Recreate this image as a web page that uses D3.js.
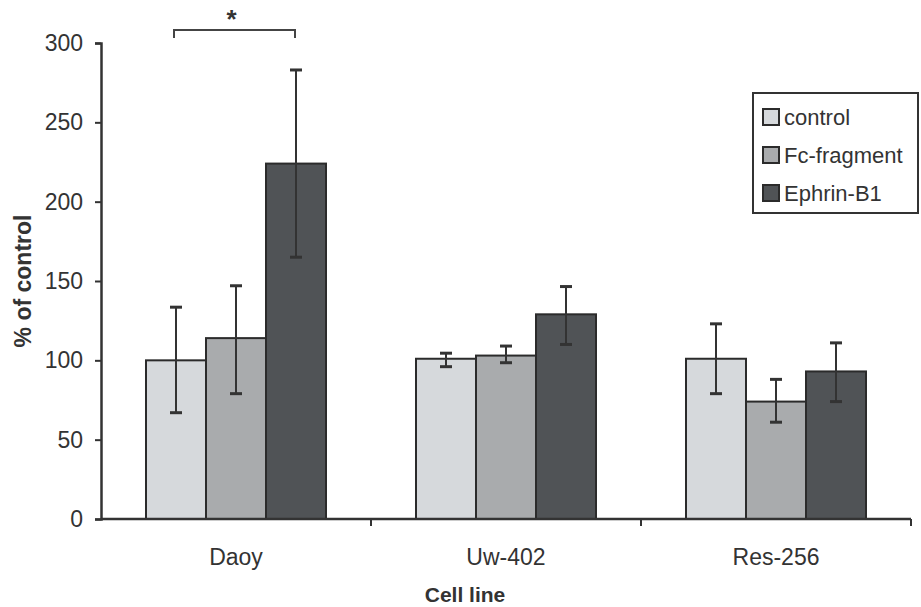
<!DOCTYPE html>
<html>
<head>
<meta charset="utf-8">
<script src="https://cdn.jsdelivr.net/npm/d3@7"></script>
<style>
  body { margin: 0; background: #fff; }
  svg text { font-family: "Liberation Sans", Arial, sans-serif; fill: #333; }
</style>
</head>
<body>
<div id="chart"></div>
<script>
// Data
const cellLines = ["Daoy", "Uw-402", "Res-256"];
const treatments = ["control", "Fc-fragment", "Ephrin-B1"];
const meanValues = [
  [100, 114, 224],   // Daoy
  [101, 103, 129],   // Uw-402
  [101, 74, 93]      // Res-256
];
const errLow = [
  [67, 79, 165],
  [96, 98.5, 110],
  [79, 61, 74]
];
const errHigh = [
  [133.5, 147, 283],
  [104.5, 109, 146.5],
  [123, 88, 111]
];
const yTicks = [0, 50, 100, 150, 200, 250, 300];
const colors = ["#d6d9dc", "#a9abad", "#505356"];

const margin = { top: 43, right: 10, bottom: 88, left: 101 };

const svg = d3.select("#chart")
  .append("svg")
  .attr("width", 921)
  .attr("height", 607);

const g = svg.append("g")
  .attr("transform", `translate(${margin.left},${margin.top})`);

// Scales
const xScale = d3.scaleBand()
  .domain(cellLines)
  .range([0, 810]);

const innerScale = d3.scaleBand()
  .domain(treatments)
  .range([45, xScale.bandwidth() - 45]);

const yScale = d3.scaleLinear()
  .domain([0, 300])
  .range([476, 0]);

// Flatten the table for the bars
const rows = [];
cellLines.forEach((c, i) => {
  treatments.forEach((t, j) => {
    rows.push({ cell: c, treat: t, j: j, v: meanValues[i][j], lo: errLow[i][j], hi: errHigh[i][j] });
  });
});

g.selectAll(".bar")
  .data(rows)
  .enter()
  .append("rect")
  .attr("class", "bar")
  .attr("x", d => xScale(d.cell) + innerScale(d.treat))
  .attr("y", d => yScale(d.v))
  .attr("width", innerScale.bandwidth())
  .attr("height", d => yScale(0) - yScale(d.v))
  .attr("fill", d => colors[d.j])
  .attr("stroke", "#2b2b2b")
  .attr("stroke-width", 2);

// Error bars
const cx = d => xScale(d.cell) + innerScale(d.treat) + innerScale.bandwidth() / 2;
const errG = g.append("g").attr("stroke", "#333").attr("stroke-width", 2);
errG.selectAll(".err")
  .data(rows)
  .enter()
  .append("line")
  .attr("x1", cx).attr("x2", cx)
  .attr("y1", d => yScale(d.lo))
  .attr("y2", d => yScale(d.hi));
errG.selectAll(".capHi")
  .data(rows)
  .enter()
  .append("line")
  .attr("x1", d => cx(d) - 6).attr("x2", d => cx(d) + 6)
  .attr("y1", d => yScale(d.hi)).attr("y2", d => yScale(d.hi))
  .attr("stroke-width", 3);
errG.selectAll(".capLo")
  .data(rows)
  .enter()
  .append("line")
  .attr("x1", d => cx(d) - 6).attr("x2", d => cx(d) + 6)
  .attr("y1", d => yScale(d.lo)).attr("y2", d => yScale(d.lo))
  .attr("stroke-width", 3);

// Y axis
const yAxis = g.append("g")
  .call(d3.axisLeft(yScale).tickValues(yTicks).tickSize(6).tickPadding(12));
yAxis.select(".domain").attr("stroke", "#333").attr("stroke-width", 2.5);
yAxis.selectAll(".tick line").attr("stroke", "#333").attr("stroke-width", 2);
yAxis.selectAll(".tick text")
  .style("font-size", "23px")
  .attr("fill", "#333");

// X axis (ticks at category boundaries)
const xAxisG = g.append("g").attr("transform", `translate(0,${yScale(0)})`);
xAxisG.append("line")
  .attr("x1", 0).attr("x2", 810)
  .attr("stroke", "#333").attr("stroke-width", 2.5);
const bounds = cellLines.map(c => xScale(c) + xScale.bandwidth());
xAxisG.selectAll(".xt")
  .data(bounds)
  .enter()
  .append("line")
  .attr("x1", d => d).attr("x2", d => d)
  .attr("y1", 0).attr("y2", 7)
  .attr("stroke", "#333").attr("stroke-width", 2);
xAxisG.selectAll(".xl")
  .data(cellLines)
  .enter()
  .append("text")
  .attr("x", d => xScale(d) + xScale.bandwidth() / 2)
  .attr("y", 46)
  .attr("text-anchor", "middle")
  .style("font-size", "23px")
  .text(d => d);

// Axis titles
svg.append("text")
  .attr("x", 465)
  .attr("y", 602)
  .attr("text-anchor", "middle")
  .style("font-size", "21px")
  .style("font-weight", "bold")
  .text("Cell line");

svg.append("text")
  .attr("transform", "translate(31,281) rotate(-90)")
  .attr("text-anchor", "middle")
  .style("font-size", "23px")
  .style("font-weight", "bold")
  .text("% of control");

// Significance bracket between Daoy control and Ephrin-B1
const bx1 = xScale("Daoy") + innerScale("control") + innerScale.bandwidth() / 2 - 2;
const bx2 = xScale("Daoy") + innerScale("Ephrin-B1") + innerScale.bandwidth() / 2 - 1;
g.append("path")
  .attr("d", `M${bx1},${-5}V${-13}H${bx2}V${-5}`)
  .attr("fill", "none")
  .attr("stroke", "#444")
  .attr("stroke-width", 2);
g.append("text")
  .attr("x", (bx1 + bx2) / 2 - 3)
  .attr("y", -15)
  .attr("text-anchor", "middle")
  .style("font-size", "26px")
  .style("font-weight", "bold")
  .text("*");

// Legend
const legend = svg.append("g").attr("transform", "translate(753,93)");
legend.append("rect")
  .attr("width", 165).attr("height", 120)
  .attr("fill", "#fff")
  .attr("stroke", "#333").attr("stroke-width", 2);
const items = legend.selectAll(".li")
  .data(treatments)
  .enter()
  .append("g")
  .attr("transform", (d, i) => `translate(10,${24 + i * 38})`);
items.append("rect")
  .attr("x", 0).attr("y", -8)
  .attr("width", 16).attr("height", 16)
  .attr("fill", (d, i) => colors[i])
  .attr("stroke", "#2b2b2b").attr("stroke-width", 2);
items.append("text")
  .attr("x", 21)
  .attr("y", 8)
  .style("font-size", "22px")
  .text(d => d);
</script>
</body>
</html>
